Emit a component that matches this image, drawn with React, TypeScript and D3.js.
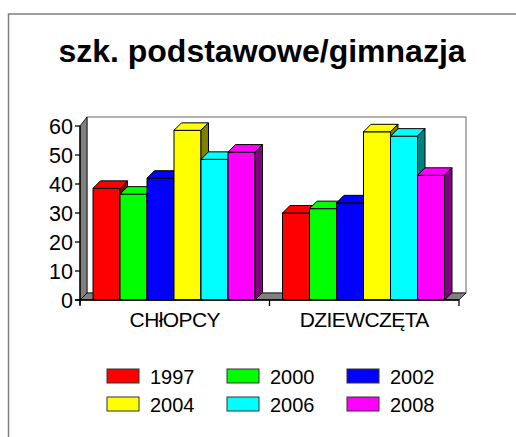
import * as d3 from "d3";

const categories = ["CHłOPCY", "DZIEWCZĘTA"];
const years = ["1997", "2000", "2002", "2004", "2006", "2008"];
const values = [
  [38.5, 36.5, 42, 58.5, 48.5, 51],
  [30, 31.5, 33.5, 58, 56.5, 43],
];
const yTicks = [0, 10, 20, 30, 40, 50, 60];
const fronts = ["#ff0000", "#00ff00", "#0000ff", "#ffff00", "#00ffff", "#ff00ff"];
const sides = ["#800000", "#008000", "#000080", "#808000", "#008080", "#800080"];

const FONT = "'Liberation Sans', Arial, sans-serif";

export default function App() {
  const left = 80;
  const right = 459;
  const base = 300;
  const wall = 7; // depth of walls/floor
  const dep = 7.5; // depth of bars

  const y = d3.scaleLinear().domain([0, 60]).range([base, 126]);
  const x0 = d3.scaleBand().domain(categories).range([left, right]);
  const x1 = d3.scaleBand().domain(years).range([13, 175]);
  const bw = x1.bandwidth();

  return (
    <svg width={516} height={437} style={{ position: "absolute", left: 0, top: 0, background: "#fff" }}>
      <rect x={8.5} y={14} width={530} height={450} fill="#fff" stroke="#808080" strokeWidth={1.5} />

      <text x={262} y={62} textAnchor="middle" fontFamily={FONT} fontWeight="bold" fontSize={32}>
        szk. podstawowe/gimnazja
      </text>

      {/* back wall */}
      <rect
        x={left + wall}
        y={y(60) - 9}
        width={right - left}
        height={base - wall - (y(60) - 9)}
        fill="#fff"
        stroke="#808080"
        strokeWidth={1.2}
      />
      {/* left wall */}
      <polygon
        points={`${left},${base} ${left + wall},${base - wall} ${left + wall},${y(60) - 9} ${left},${y(60)}`}
        fill="#808080"
        stroke="#000"
        strokeWidth={0.8}
      />
      {/* floor */}
      <polygon
        points={`${left},${base} ${right},${base} ${right + wall},${base - wall} ${left + wall},${base - wall}`}
        fill="#808080"
        stroke="#000"
        strokeWidth={0.8}
      />

      {categories.map((c, ci) =>
        years.map((yr, si) => {
          const v = values[ci][si];
          const bx = (x0(c) ?? 0) + (x1(yr) ?? 0);
          const ty = y(v);
          return (
            <g key={c + yr} stroke="#000" strokeWidth={1} strokeLinejoin="round">
              <rect x={bx} y={ty} width={bw} height={base - ty} fill={fronts[si]} />
              <polygon
                points={`${bx},${ty} ${bx + dep},${ty - dep} ${bx + bw + dep},${ty - dep} ${bx + bw},${ty}`}
                fill={fronts[si]}
              />
              <polygon
                points={`${bx + bw},${ty} ${bx + bw + dep},${ty - dep} ${bx + bw + dep},${base - dep} ${bx + bw},${base}`}
                fill={sides[si]}
              />
            </g>
          );
        })
      )}

      {/* axes */}
      <line x1={left} x2={left} y1={y(60)} y2={base + 5} stroke="#000" strokeWidth={1.3} />
      <line x1={left - 5} x2={right} y1={base} y2={base} stroke="#000" strokeWidth={1.3} />
      {yTicks.map((t) => (
        <g key={t}>
          <line x1={left - 5} x2={left} y1={y(t)} y2={y(t)} stroke="#000" strokeWidth={1.3} />
          <text
            x={left - 7}
            y={y(t)}
            dy="0.36em"
            textAnchor="end"
            fontFamily={FONT}
            fontSize={21.5}
          >
            {t}
          </text>
        </g>
      ))}
      {[...categories.map((c) => x0(c) ?? 0), right].map((tx, i) => (
        <line key={i} x1={tx} x2={tx} y1={base} y2={base + 6} stroke="#000" strokeWidth={1.3} />
      ))}
      {categories.map((c) => (
        <text
          key={c}
          x={(x0(c) ?? 0) + x0.bandwidth() / 2}
          y={327}
          textAnchor="middle"
          fontFamily={FONT}
          fontSize={21}
          letterSpacing={-0.6}
        >
          {c}
        </text>
      ))}

      {/* legend */}
      {years.map((yr, i) => {
        const col = i % 3;
        const row = Math.floor(i / 3);
        const lx = 107 + col * 120;
        const ly = 369 + row * 28;
        return (
          <g key={yr}>
            <rect x={lx} y={ly} width={32} height={14} fill={fronts[i]} stroke="#333" strokeWidth={1} />
            <text x={lx + 43} y={ly + 14.5} fontFamily={FONT} fontSize={20}>
              {yr}
            </text>
          </g>
        );
      })}
    </svg>
  );
}
